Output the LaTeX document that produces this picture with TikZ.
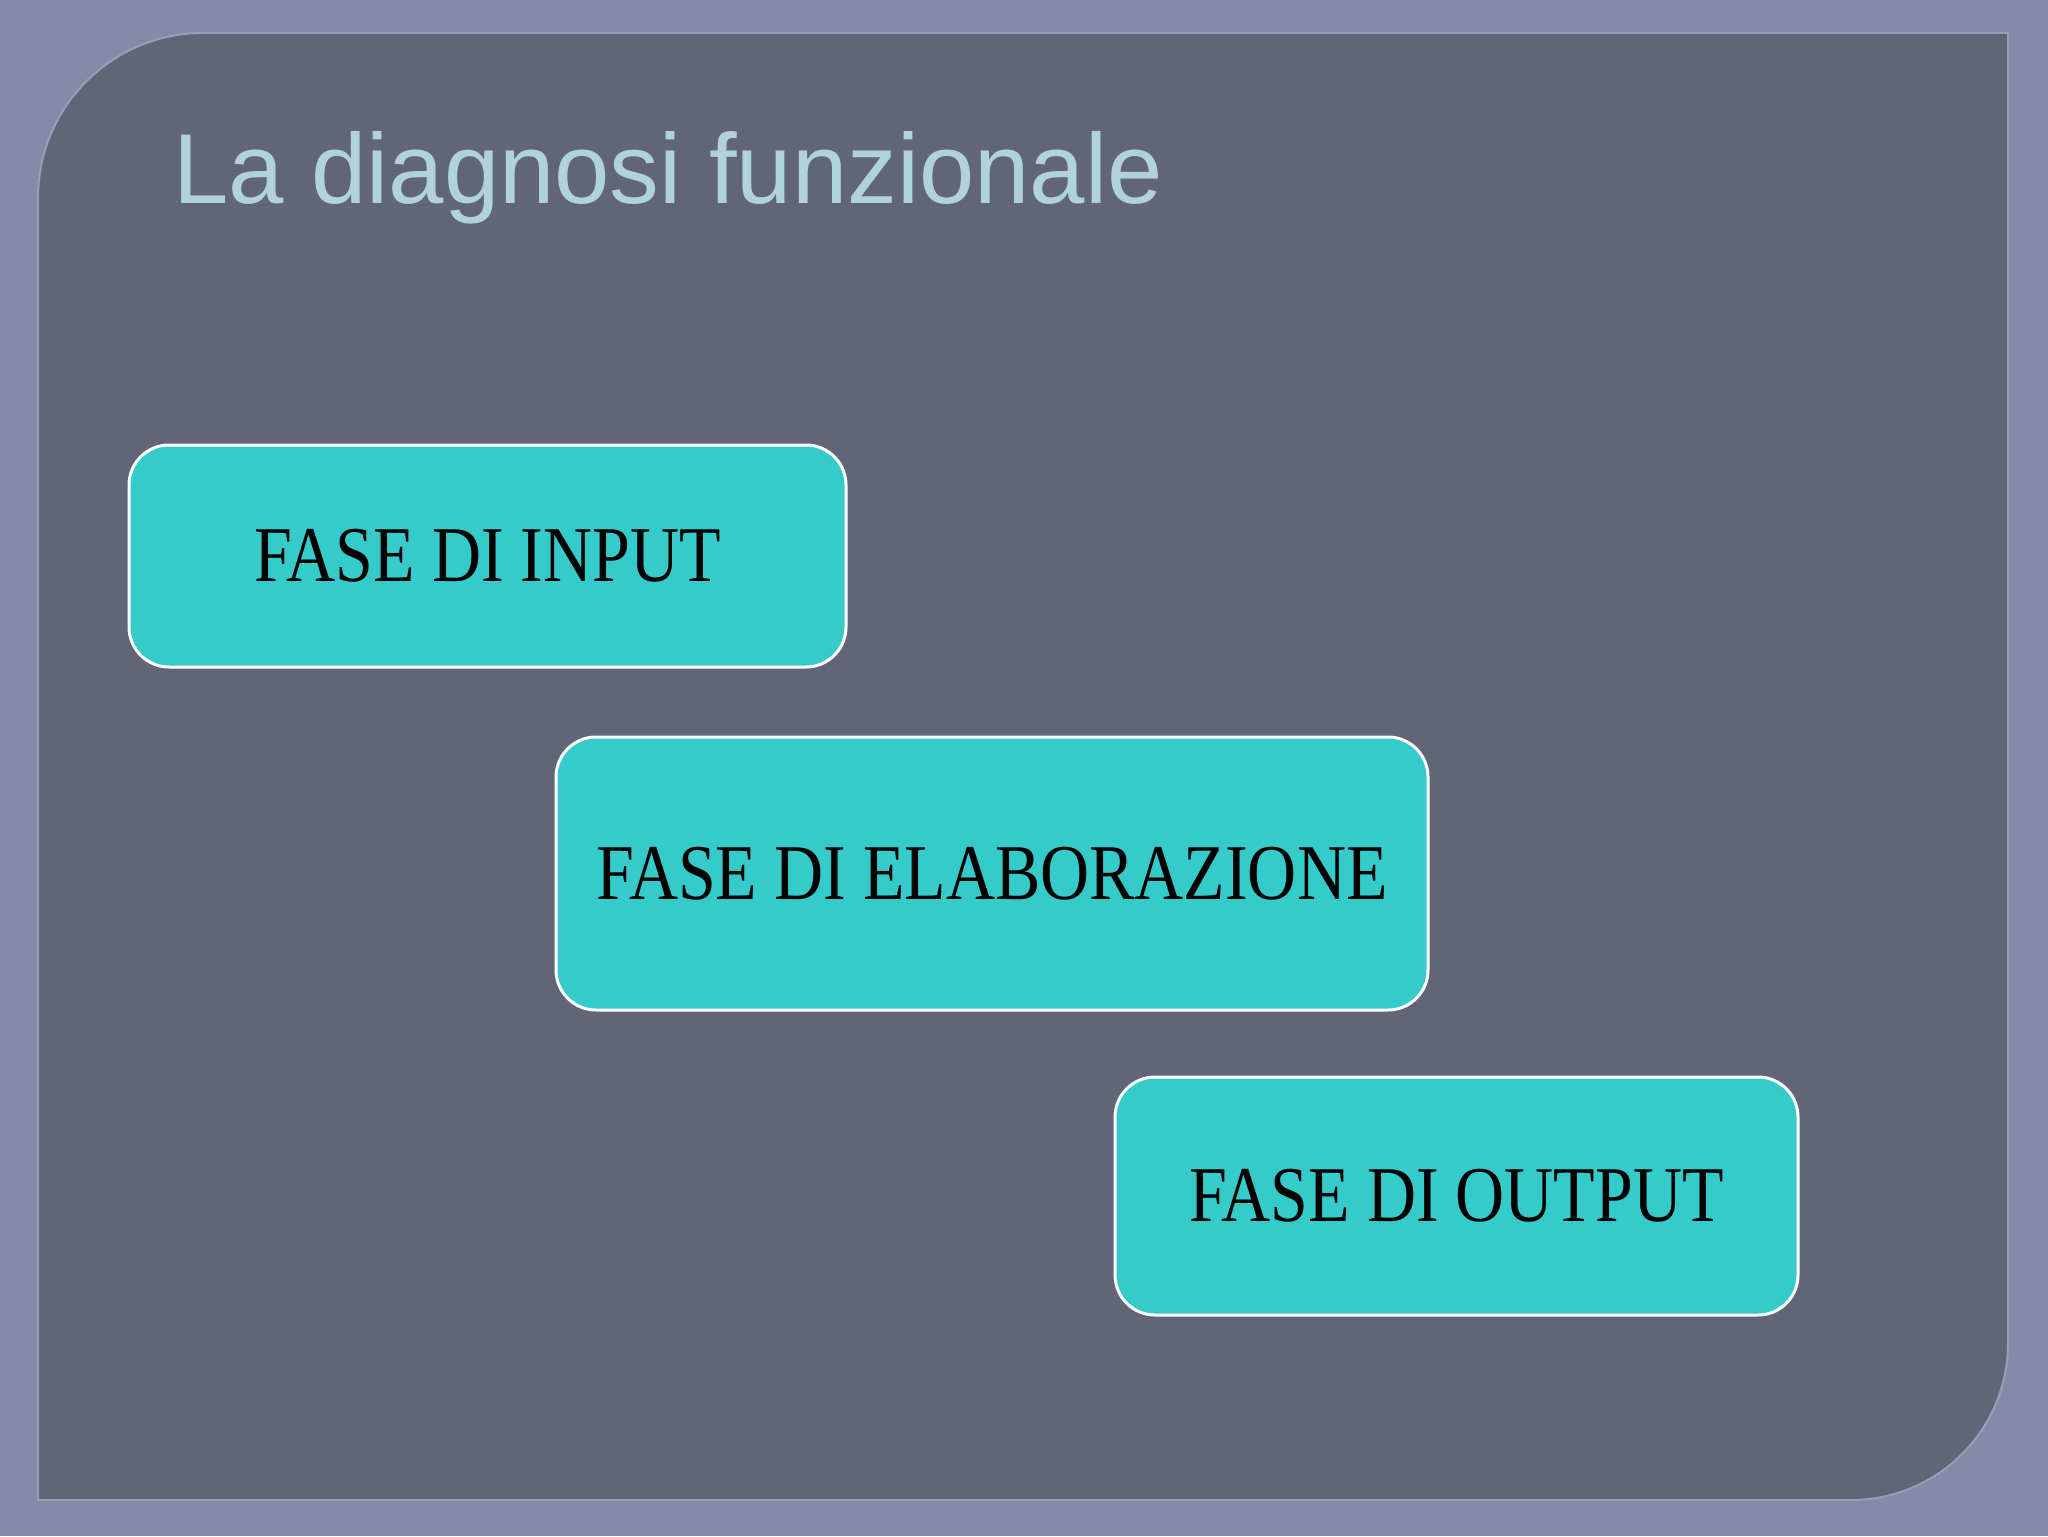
\documentclass[tikz,border=0pt]{standalone}
\usepackage{fontspec}
\setmainfont{Liberation Serif}
\newfontfamily\titlefont{Liberation Sans}
\newfontfamily\boxfont[FakeStretch=0.86]{Liberation Serif}
\definecolor{framebg}{HTML}{8789A9}
\definecolor{panelbg}{HTML}{626578}
\definecolor{panelrim}{HTML}{9A9CB8}
\definecolor{titlecol}{HTML}{B0D2DE}
\definecolor{boxfill}{HTML}{36CBCB}
\tikzset{
  phasebox/.style={draw=white, line width=1.5pt, fill=boxfill, rounded corners=20pt,
    inner sep=0pt, font=\boxfont\fontsize{39.5pt}{45pt}\selectfont, text=black},
}
\begin{document}
\begin{tikzpicture}[x=0.5pt,y=-0.5pt]
\useasboundingbox (0,0) rectangle (2048,1536);
\fill[framebg] (0,0) rectangle (2048,1536);
% panel
\path[fill=panelbg, draw=panelrim, line width=1pt]
  (38,1500) -- (38,198) .. controls (38,106.9) and (112,33) .. (203,33)
  -- (2008,33) -- (2008,1343) .. controls (2008,1429.7) and (1937.7,1500) .. (1851,1500)
  -- cycle;
% title
\node[anchor=base west, inner sep=0pt, text=titlecol,
  font=\titlefont\fontsize{49.7pt}{60pt}\selectfont] (title) at (173,203) {La diagnosi funzionale};
% boxes
\node[phasebox, minimum width=358.5pt, minimum height=111pt] (input) at (487.5,556) {FASE DI INPUT};
\node[phasebox, minimum width=436pt, minimum height=136.5pt] (elab) at (992,873.5) {FASE DI ELABORAZIONE};
\node[phasebox, minimum width=341.5pt, minimum height=119pt] (output) at (1456.5,1196) {FASE DI OUTPUT};
\end{tikzpicture}
\end{document}
